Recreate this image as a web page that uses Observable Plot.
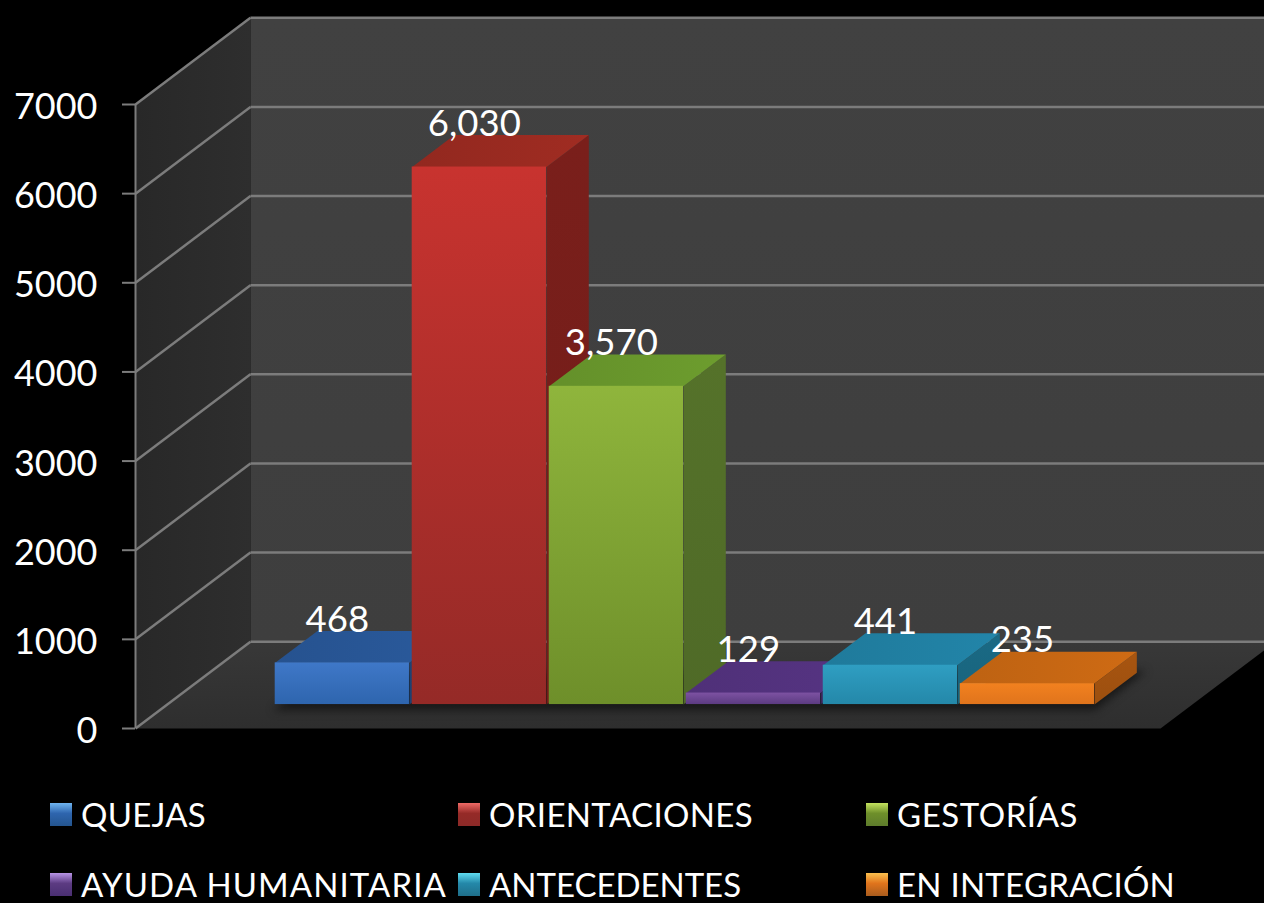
<!DOCTYPE html>
<html><head><meta charset="utf-8">
<script src="https://cdn.jsdelivr.net/npm/d3@7"></script>
<script src="https://cdn.jsdelivr.net/npm/@observablehq/plot@0.6"></script>
<style>
html,body{margin:0;padding:0;background:#000;width:1264px;height:903px;overflow:hidden}
#chart svg{display:block}
.shadow{filter:blur(4px)}
.soft{filter:blur(.7px)}
#legend{position:relative;height:133px;font-family:Lato,sans-serif;color:#fff}
.item{position:absolute;display:flex;align-items:center;height:23px;white-space:nowrap;font-size:33px;line-height:1}
.sw{width:22px;height:23px;margin-right:9px;flex:none}
</style></head><body>
<div id="chart"></div><div id="legend"></div>
<script>
const categories = ["QUEJAS","ORIENTACIONES","GESTORÍAS","AYUDA HUMANITARIA","ANTECEDENTES","EN INTEGRACIÓN"];
const values = [468,6030,3570,129,441,235];
const yTicks = [0,1000,2000,3000,4000,5000,6000,7000];
const frontTop = ["#3f78c8","#c8332f","#8fb53c","#7d52a2","#2f9ec2","#f2811f"];
const frontBottom = ["#2e65ae","#952a27","#6e8f2a","#5c3b82","#2488a9","#e0741c"];
const topFace = ["#26528f","#92281f","#64902a","#4f3078","#1f7a9b","#bd6212"];
const sideFace = ["#1e4578","#7a1f1b","#55722a","#3f2760","#1a6a85","#a85510"];
const swatchTop = ["#6fb4f0","#ef6a66","#c4e25e","#b894e6","#5fdcf0","#fbc04e"];
const swatchBottom = ["#24558f","#8c2a28","#5e7c2c","#4a2f72","#1f6f8a","#a95c1e"];
const legendWidths = [125,264,181,366,252,278];

const xMin = -0.788, xMax = 6.693;     // category slots along the floor
const depthX = 0.839, depthY = 973;    // full-depth shear, in scale units
const barFront = 0.276, barBack = 0.644, barWidth = 0.98;
const px = (x, d) => x + d * depthX;
const py = (v, d) => v + d * depthY;
const pt = (x, v, d) => ({x: px(x, d), y: py(v, d)});

const poly = (points, fill, extra = {}) =>
  Plot.line(points, {x: "x", y: "y", fill, stroke: "none", className: "soft", ...extra});

const marks = [
  // walls and floor
  poly([pt(xMin,0,0),pt(xMin,7000,0),pt(xMin,7000,1),pt(xMin,0,1)], "url(#sideWall)"),
  poly([pt(xMin,7000,1),pt(xMax,7000,1),pt(xMax,0,1),pt(xMin,0,1)], "url(#backWall)"),
  poly([pt(xMin,0,0),pt(xMin,0,1),pt(xMax,0,1),pt(xMax,0,0)], "url(#floor)"),
  // gridlines
  Plot.link(yTicks, {x1: px(xMin,0), x2: px(xMin,1), y1: d => py(d,0), y2: d => py(d,1), stroke: "#7c7c7c", strokeWidth: 2.5, className: "soft"}),
  Plot.link(yTicks, {x1: px(xMin,1), x2: px(xMax,1), y1: d => py(d,1), y2: d => py(d,1), stroke: "#7c7c7c", strokeWidth: 2.5, className: "soft"}),
  Plot.ruleX([xMin], {y1: 0, y2: 7000, stroke: "#7c7c7c", strokeWidth: 2}),
  // shadow under the bars
  poly([pt(0,-45,barFront-0.02),pt(6,-45,barFront-0.02),pt(6.03,0,barBack+0.02),pt(0,0,barBack)], "#111", {className: "shadow", fillOpacity: 0.8}),
  // bars, painted left to right
  ...values.flatMap((v, i) => {
    const a = i, b = i + barWidth;
    return [
      poly([pt(b,0,barFront),pt(b,v,barFront),pt(b,v,barBack),pt(b,0,barBack)], `url(#side${i})`),
      poly([pt(a,v,barFront),pt(b,v,barFront),pt(b,v,barBack),pt(a,v,barBack)], `url(#top${i})`),
      Plot.rect([v], {x1: px(a,barFront), x2: px(b,barFront), y1: py(0,barFront), y2: d => py(d,barFront), fill: `url(#front${i})`, className: "soft"})
    ];
  }),
  // data labels
  Plot.text(values, {
    x: (d, i) => px(i + barWidth / 2, barFront),
    y: d => py(d, barBack),
    text: d => d3.format(",")(d),
    dx: -5, dy: -11, fill: "white", fontSize: 36.5, lineAnchor: "middle"
  }),
  // axis: tick marks, then their labels a little lower
  Plot.axisY(yTicks, {anchor: "left", tickSize: 13, text: null, stroke: "#7c7c7c", strokeWidth: 2, label: null}),
  Plot.axisY(yTicks, {
    anchor: "left", tickSize: 0, tickPadding: 38, tickFormat: d3.format("d"),
    fontSize: 36, fill: "white", label: null, dy: 3
  })
];

const plot = Plot.plot({
  width: 1264, height: 770,
  marginLeft: 135, marginRight: 104, marginTop: 104, marginBottom: 42,
  x: {domain: [xMin, xMax], axis: null},
  y: {domain: [0, 7000], axis: null},
  style: {background: "#000", color: "#fff", fontFamily: "Lato, sans-serif"},
  marks
});

const defs = d3.select(plot).insert("defs", ":first-child");
const stops = (id, c1, c2, horizontal) => {
  const lg = defs.append("linearGradient").attr("id", id)
    .attr("x1", 0).attr("y1", 0).attr("x2", horizontal ? 1 : 0).attr("y2", horizontal ? 0 : 1);
  lg.append("stop").attr("offset", 0).attr("stop-color", c1);
  lg.append("stop").attr("offset", 1).attr("stop-color", c2);
};
stops("sideWall", "#282828", "#2e2e2e", true);
stops("backWall", "#414141", "#3e3e3e", false);
stops("floor", "#383838", "#2e2e2e", false);
values.forEach((v, i) => {
  stops(`front${i}`, frontTop[i], frontBottom[i]);
  stops(`top${i}`, topFace[i], d3.color(topFace[i]).brighter(0.25).formatHex(), true);
  stops(`side${i}`, sideFace[i], d3.color(sideFace[i]).darker(0.2).formatHex(), false);
});
document.getElementById("chart").append(plot);

const legendX = [50, 458, 866];
const legendY = [33, 103];
const legend = d3.select("#legend");
categories.forEach((c, i) => {
  const item = legend.append("div").attr("class", "item")
    .style("left", legendX[i % 3] + "px").style("top", legendY[Math.floor(i / 3)] + "px");
  item.append("span").attr("class", "sw")
    .style("background", `linear-gradient(${swatchTop[i]}, ${frontBottom[i]} 45%, ${swatchBottom[i]})`);
  const label = item.append("span").text(c);
  const measured = label.node().getBoundingClientRect().width;
  label.style("letter-spacing", ((legendWidths[i] - measured) / c.length) + "px");
});
</script>
</body></html>
